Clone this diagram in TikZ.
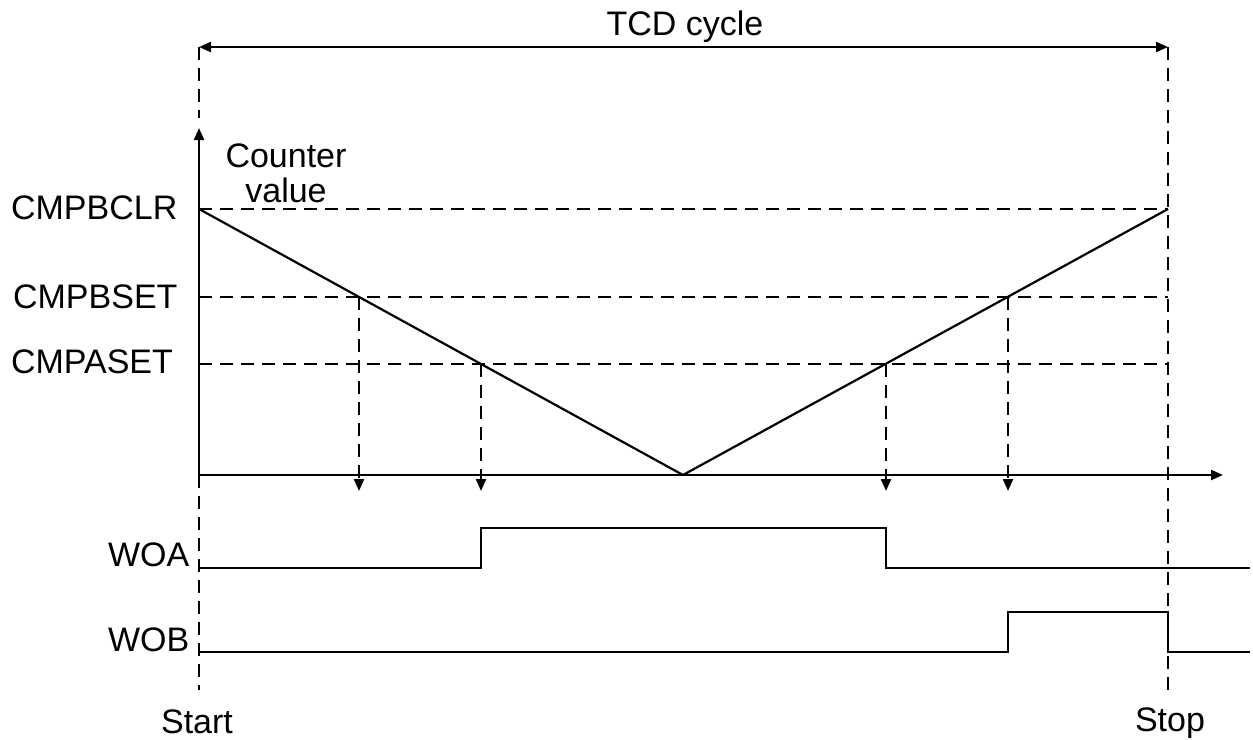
\documentclass[tikz,border=0pt]{standalone}
\usepackage{fontspec}
\setmainfont{Liberation Sans}
\usetikzlibrary{arrows.meta}
\begin{document}
\begin{tikzpicture}[x=1pt,y=-1pt,
  line width=2.2pt,
  lbl/.style={inner sep=0pt,font=\fontsize{34}{35}\selectfont},
  guide/.style={dash pattern=on 13pt off 8pt},
  tipend/.style={-{Triangle[length=12pt,width=10pt]}},
  tipboth/.style={{Triangle[length=12pt,width=10pt]}-{Triangle[length=12pt,width=10pt]}}]
\useasboundingbox (0,0) rectangle (1253,739);
% frame coordinates
\coordinate (S0) at (199,47);
\coordinate (Sa) at (199,118);
\coordinate (S1) at (199,690);
\coordinate (E0) at (1168,47);
\coordinate (E1) at (1168,690);
\coordinate (O) at (199,475);
\coordinate (Ytop) at (199,128);
\coordinate (Xend) at (1223,475);
% levels
\coordinate (LC0) at (199,209); \coordinate (LC1) at (1168,209);
\coordinate (LB0) at (199,297); \coordinate (LB1) at (1168,297);
\coordinate (LA0) at (199,364); \coordinate (LA1) at (1168,364);
% counter
\coordinate (V) at (683,475);
\coordinate (B1) at (359,297); \coordinate (A1) at (481,364);
\coordinate (A2) at (886,364); \coordinate (B2) at (1008,297);
\coordinate (B1d) at (359,491); \coordinate (A1d) at (481,491);
\coordinate (A2d) at (886,491); \coordinate (B2d) at (1008,491);
% guides
\draw[guide] (S0) -- (Sa);
\draw[guide] (O) -- (S1);
\draw[guide] (E0) -- (E1);
\draw[guide] (LC0) -- (LC1);
\draw[guide] (LB0) -- (LB1);
\draw[guide] (LA0) -- (LA1);
\draw[guide,tipend] (B1) -- (B1d);
\draw[guide,tipend] (A1) -- (A1d);
\draw[guide,tipend] (A2) -- (A2d);
\draw[guide,tipend] (B2) -- (B2d);
% cycle arrow
\draw[tipboth] (S0) -- (E0);
\node[lbl,anchor=base] (tcd) at (685,35) {TCD cycle};
% axes
\draw[tipend] (O) -- (Ytop);
\draw[tipend] (O) -- (Xend);
\node[lbl,anchor=north,align=center] (cv) at (286,143) {Counter\\value};
% counter line
\draw[line join=miter] (LC0) -- (V) -- (LC1);
% level labels
\node[lbl,anchor=west] (lclr) at (10,208) {CMPBCLR};
\node[lbl,anchor=west] (lbset) at (12,297) {CMPBSET};
\node[lbl,anchor=west] (laset) at (10,362) {CMPASET};
% WOA / WOB
\draw (199,568) -- (481,568) -- (481,528) -- (886,528) -- (886,568) -- (1250,568);
\draw (199,652) -- (1008,652) -- (1008,612) -- (1168,612) -- (1168,652) -- (1250,652);
\node[lbl,anchor=base west] (woa) at (107,566) {WOA};
\node[lbl,anchor=base west] (wob) at (107,651) {WOB};
% start / stop
\node[lbl,anchor=base] (start) at (197,733) {Start};
\node[lbl,anchor=base] (stop) at (1170,731) {Stop};
\end{tikzpicture}
\end{document}
